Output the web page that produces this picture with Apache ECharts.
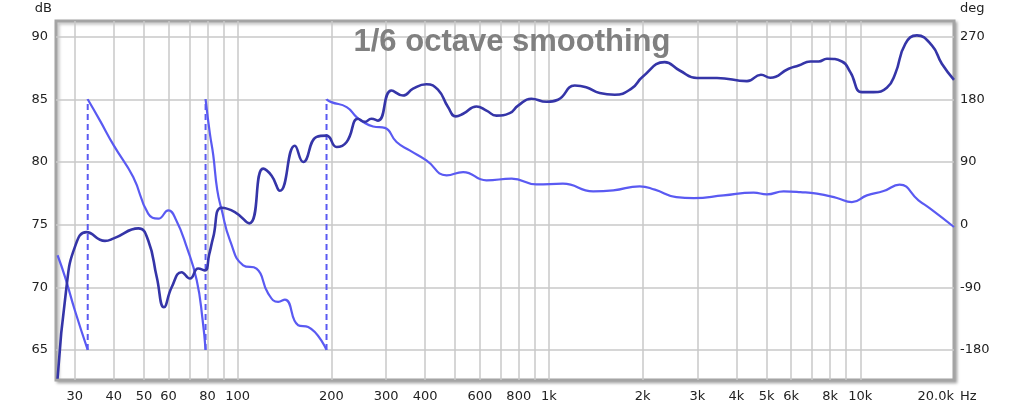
<!DOCTYPE html>
<html>
<head>
    <meta charset="utf-8">
    <title>ECharts</title>
    <script src="https://cdn.jsdelivr.net/npm/echarts@6/dist/echarts.min.js"></script>
    <style>
        html, body { margin: 0; padding: 0; background: #ffffff; }
    </style>
</head>
<body>
    <div id="main" style="width: 1024px;height:411px;"></div>
    <script type="text/javascript">
// magnitude response (dB)
var magFreq = [26.4, 28.2, 30, 32.7, 37.5, 40, 48, 51.6, 55, 58, 61.4, 66.1, 70.3, 74.7, 78.5, 81, 83.5, 88.8, 98,
    109, 120.8, 128.6, 136.7, 152.7, 162.4, 179.3, 193, 208, 224, 243.8, 256, 269, 282.6, 312, 340, 366, 404,
    440, 474, 502, 530, 585, 630, 678, 748, 796, 878, 982, 1069, 1210, 1317, 1455, 1627, 1840, 2000, 2353,
    2630, 2989, 3465, 4325, 4797, 5141, 5888, 6340, 6911, 7350, 7815, 8730, 9290, 10120, 11030, 12170,
    12950, 13950, 15200, 16980, 18280, 20000];
var magDb = [62.7, 70.0, 73.2, 74.4, 73.7, 73.9, 74.7, 73.75, 70.8, 68.4, 70.0, 71.2, 70.7, 71.5, 71.35, 72.6, 74.0, 76.35, 76.0,
    75.1, 79.47, 78.9, 77.7, 81.3, 80.0, 82.0, 82.1, 81.2, 81.6, 83.45, 83.2, 83.45, 83.3, 85.7, 85.3, 85.85, 86.2,
    85.77, 84.38, 83.64, 83.85, 84.43, 84.1, 83.7, 83.9, 84.5, 85.05, 84.8, 84.97, 86.1, 85.97, 85.5, 85.37, 85.85, 86.8, 87.97,
    87.3, 86.7, 86.7, 86.45, 86.96, 86.72, 87.44, 87.7, 88.02, 88.02, 88.24, 88.02, 87.17, 85.57, 85.57, 85.92,
    87.04, 89.43, 90.1, 89.3, 87.84, 86.56];

// phase (deg), wrapped; a repeated frequency marks a wrap from -180 to +180
var phaseFreq = [26.4, 27.9, 30, 33.0,
    33.0, 36.1, 40, 46.2, 51.6, 55.6, 59.9, 63.5, 68.6, 73.9, 77.2, 78.9,
    78.9, 81.5, 83.5, 86, 88.8, 94.5, 104.2, 115, 125.4, 135, 141.9, 156.5, 168.5, 193,
    193, 200, 224, 241, 253, 272.4, 297, 324, 357, 404, 469, 530, 630, 759, 912, 1109, 1386, 1609, 1956,
    2188, 2565, 2917, 3639, 4545, 5012, 5672, 6418, 7256, 8413, 9400, 10500, 11880, 13370, 15380, 16780, 20000];
var phaseDeg = [-44, -75, -123, -180,
    180, 149.7, 113.8, 68.3, 15.8, 8.6, 20.5, 6.2, -32, -80, -137, -180,
    180, 130, 100, 50, 22, -22.5, -58.4, -63.2, -99, -111, -107.7, -144.5, -147, -180,
    180, 176, 168.8, 154.5, 147.3, 141, 139, 118.6, 106.6, 92.3, 70.8, 75.5, 63.6, 66, 57.8, 58.8, 47.8, 49.2, 55,
    50.2, 39.6, 38.2, 42, 46, 43.5, 47.8, 46.8, 44.5, 38.2, 32.4, 42, 48.2, 57.4, 34.9, 23, -3.4];

// axes
var gridFreqs = [30, 40, 50, 60, 70, 80, 90, 100, 200, 300, 400, 500, 600, 700, 800, 900,
    1000, 2000, 3000, 4000, 5000, 6000, 7000, 8000, 9000, 10000];
var labelFreqs = [30, 40, 50, 60, 80, 100, 200, 300, 400, 600, 800, 1000, 2000, 3000, 4000, 5000, 6000, 8000, 10000, 20000];
var labelTexts = ['30', '40', '50', '60', '80', '100', '200', '300', '400', '600', '800', '1k', '2k', '3k', '4k', '5k', '6k', '8k', '10k', '20.0k'];
var dbTicks = [65, 70, 75, 80, 85, 90];
var degTicks = [-180, -90, 0, 90, 180, 270];

var lg = Math.log10;
var magColor = '#3535a8';
var phaseColor = '#5a5af2';
var labelFont = 'DejaVu Sans';

var magData = magFreq.map(function (f, i) { return [lg(f), magDb[i]]; });

// split phase into segments at the wraps
var phaseSegs = [[]];
var wrapFreqs = [];
phaseFreq.forEach(function (f, i) {
    if (i > 0 && f === phaseFreq[i - 1]) {
        phaseSegs.push([]);
        wrapFreqs.push(f);
    }
    phaseSegs[phaseSegs.length - 1].push([lg(f), phaseDeg[i]]);
});

var series = [];
phaseSegs.forEach(function (seg) {
    series.push({
        type: 'line', yAxisIndex: 1, data: seg, showSymbol: false, smooth: 0.5,
        lineStyle: { color: phaseColor, width: 2.2 }, silent: true, animation: false, z: 3
    });
});
wrapFreqs.forEach(function (f) {
    series.push({
        type: 'line', yAxisIndex: 1, data: [[lg(f), -180], [lg(f), 180]], showSymbol: false,
        lineStyle: { color: phaseColor, width: 2, type: [6, 4] }, silent: true, animation: false, z: 3
    });
});
series.push({
    type: 'line', yAxisIndex: 0, data: magData, showSymbol: false, smooth: 0.5,
    lineStyle: { color: magColor, width: 2.6 }, silent: true, animation: false, z: 4
});

var myChart = echarts.init(document.getElementById('main'));
var option = {
    backgroundColor: '#ffffff',
    animation: false,
    title: {
        text: '1/6 octave smoothing',
        left: 'center',
        top: 22,
        textStyle: { color: '#808080', fontSize: 31, fontWeight: 'bold', fontFamily: 'Liberation Sans' }
    },
    grid: {
        left: 56, right: 70, top: 21, bottom: 31,
        show: true, backgroundColor: '#ffffff',
        borderColor: '#a4a4a4', borderWidth: 3,
        shadowColor: 'rgba(0,0,0,0.25)', shadowBlur: 3, shadowOffsetX: 2, shadowOffsetY: 2
    },
    xAxis: {
        type: 'value',
        min: lg(26.1),
        max: lg(20000),
        name: 'Hz',
        nameLocation: 'end',
        nameGap: 5,
        nameTextStyle: { color: '#222', fontSize: 13, fontFamily: labelFont, align: 'left', verticalAlign: 'top', padding: [10, 0, 0, 0] },
        axisLine: { show: false, onZero: false },
        axisTick: { show: false, customValues: gridFreqs.map(lg) },
        splitLine: { show: true, lineStyle: { color: '#c8c8c8', width: 1.5 } },
        axisLabel: {
            customValues: labelFreqs.map(lg),
            margin: 10,
            color: '#222', fontSize: 13, fontFamily: labelFont,
            alignMaxLabel: 'right',
            formatter: function (v) {
                for (var i = 0; i < labelFreqs.length; i++) {
                    if (Math.abs(lg(labelFreqs[i]) - v) < 1e-6) return labelTexts[i];
                }
                return '';
            }
        }
    },
    yAxis: [{
        type: 'value',
        min: 62.6, max: 91.25,
        name: 'dB',
        nameGap: 6,
        nameTextStyle: { color: '#222', fontSize: 13, fontFamily: labelFont, align: 'right', padding: [0, 4, 0, 0] },
        axisLine: { show: false },
        axisTick: { show: false, customValues: dbTicks },
        splitLine: { show: true, lineStyle: { color: '#c8c8c8', width: 1.5 } },
        axisLabel: { customValues: dbTicks, margin: 8, color: '#222', fontSize: 13, fontFamily: labelFont }
    }, {
        type: 'value',
        position: 'right',
        min: -223.2, max: 292.5,
        name: 'deg',
        nameGap: 6,
        nameTextStyle: { color: '#222', fontSize: 13, fontFamily: labelFont, align: 'left', padding: [0, 0, 0, 6] },
        axisLine: { show: false },
        axisTick: { show: false, customValues: degTicks },
        splitLine: { show: false },
        axisLabel: { customValues: degTicks, margin: 6, color: '#222', fontSize: 13, fontFamily: labelFont }
    }],
    series: series
};
myChart.setOption(option);
    </script>
</body>
</html>
